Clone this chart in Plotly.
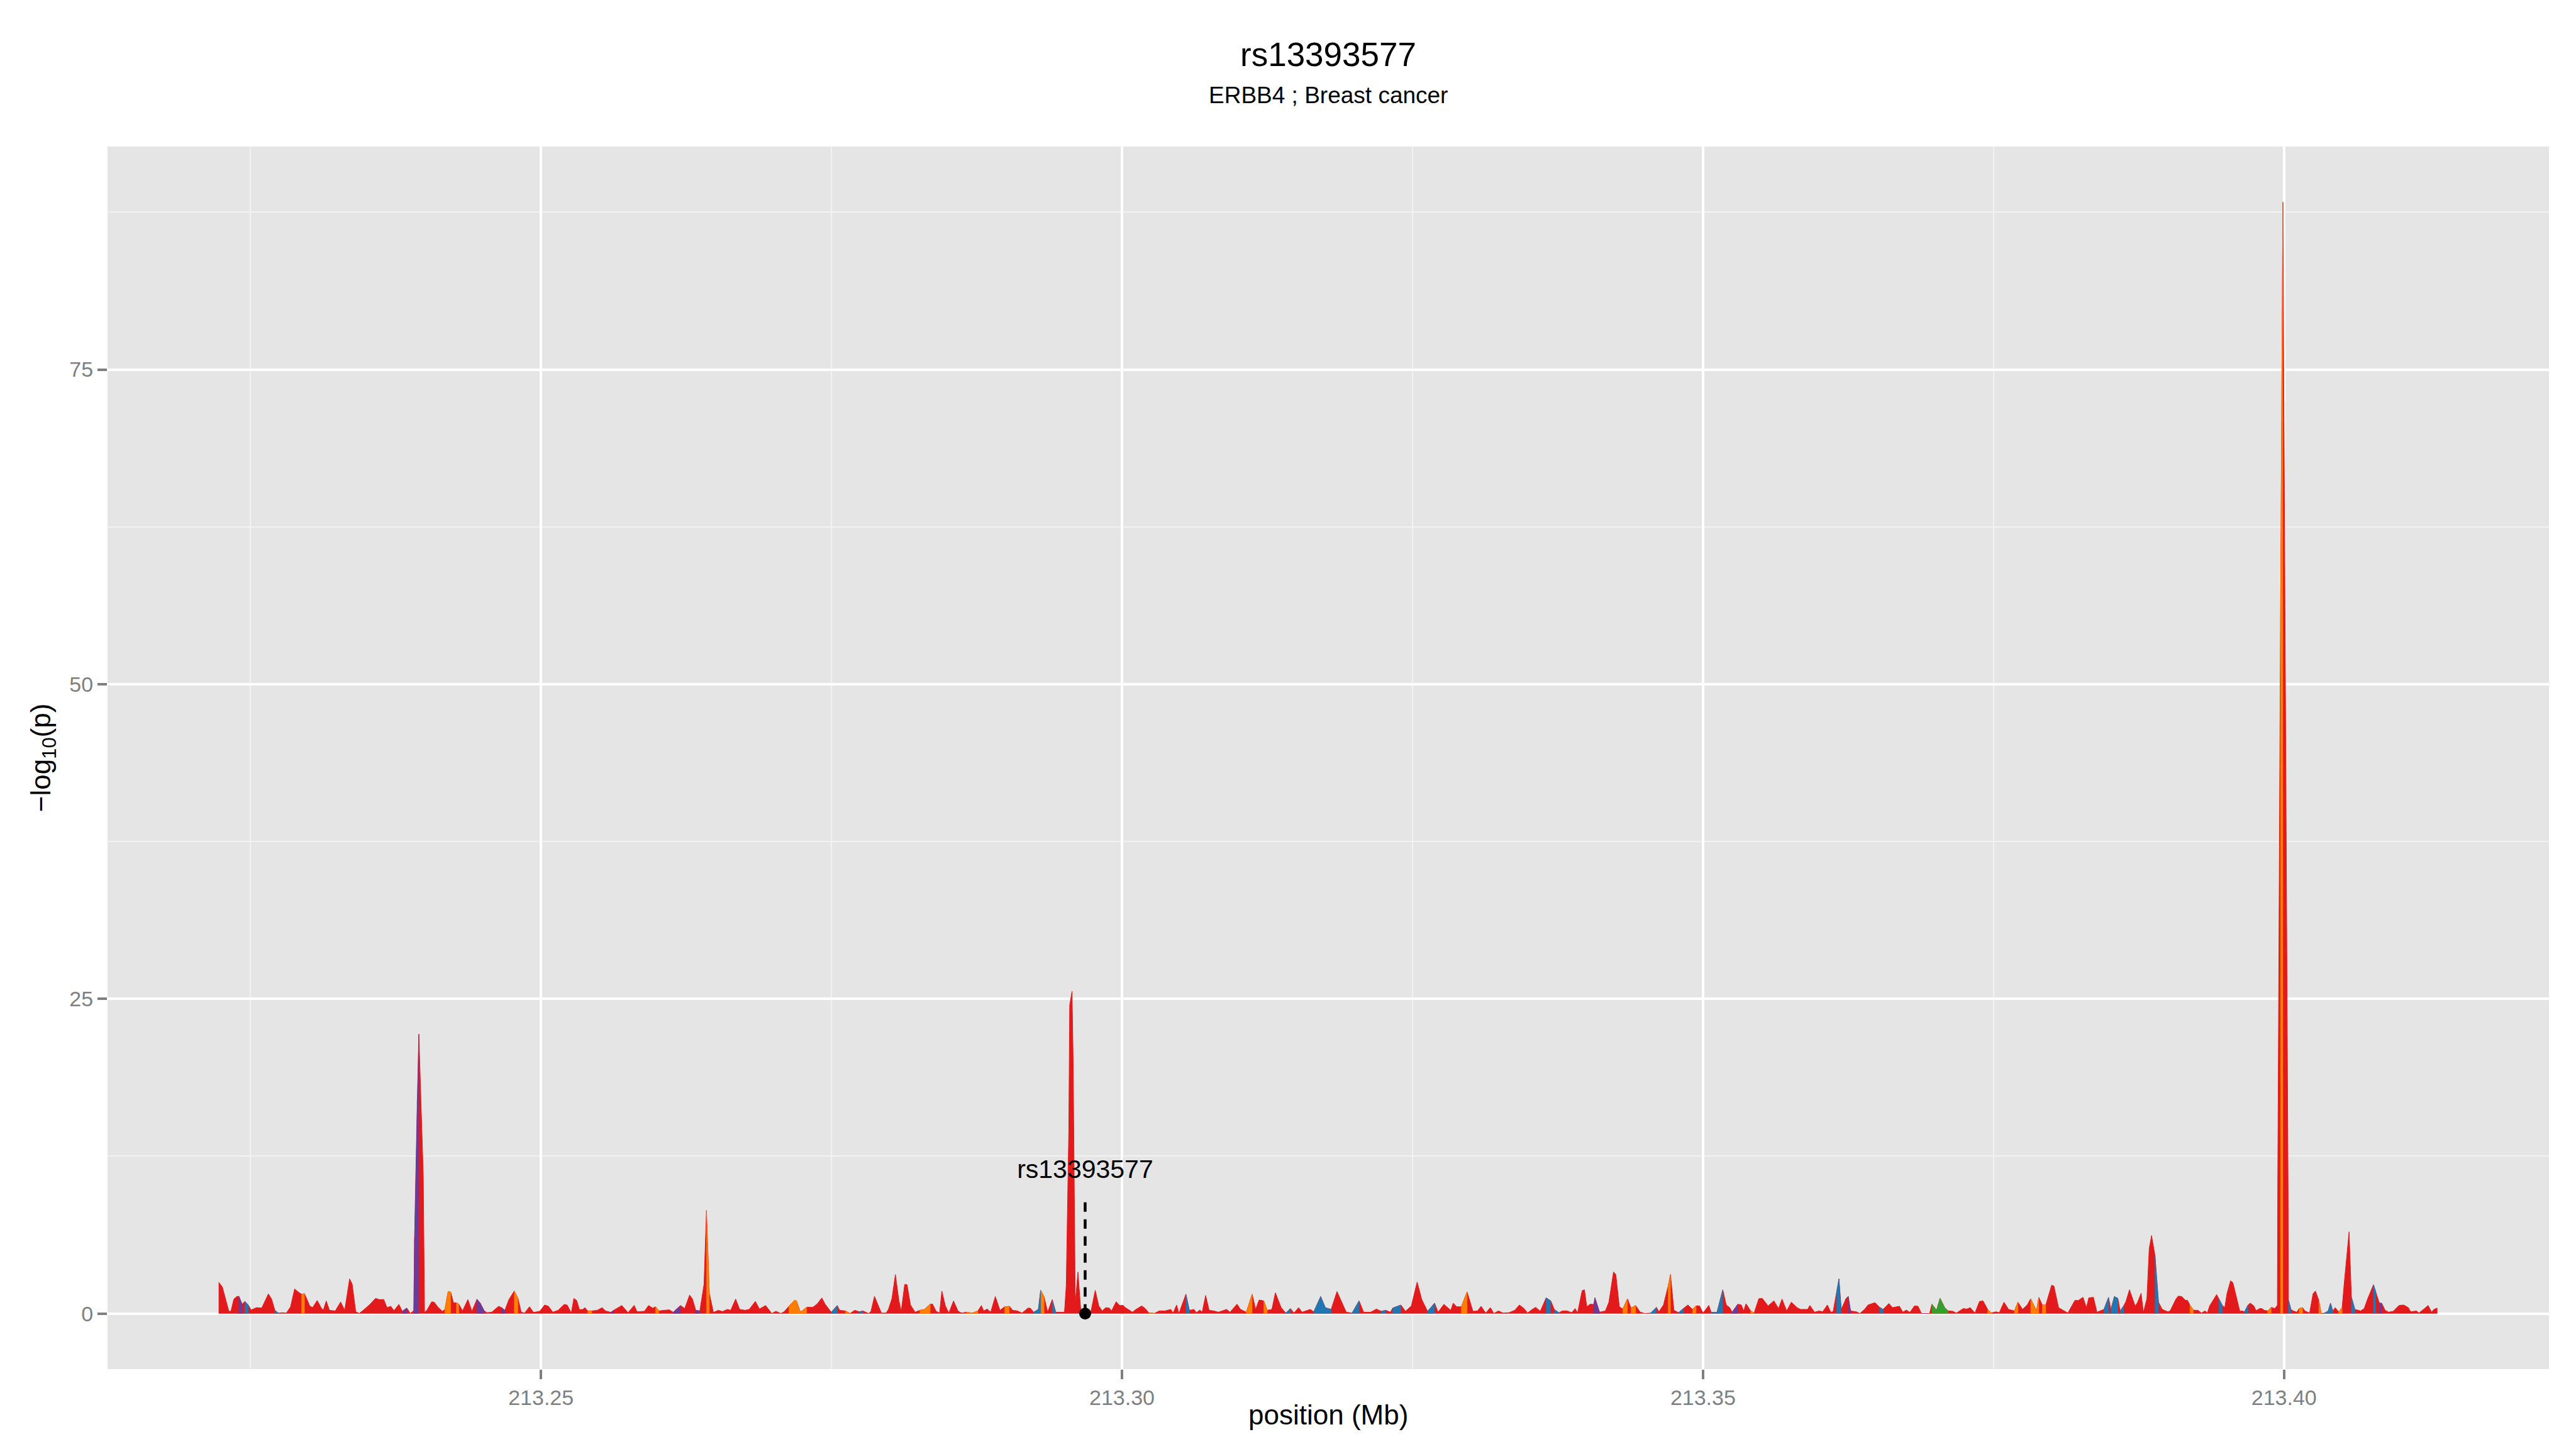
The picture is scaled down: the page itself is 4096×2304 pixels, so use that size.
import plotly.graph_objects as go

# ---------------- data ----------------
POS_BASE_MB = 213.0          # positions below are kb offsets from 213,000 kb
title_text = "rs13393577"
subtitle_text = "ERBB4 ; Breast cancer"
snp_label = "rs13393577"
snp_pos_kb = 296.83
snp_stem_top = 9.1
snp_label_y = 11.3

pos_kb = [
 222.26,222.58,223.14,223.32,223.57,223.82,224.00,224.28,224.52,224.81,
 225.05,225.51,225.97,226.54,226.82,227.10,227.39,227.74,228.09,228.45,
 228.80,229.15,229.40,229.65,230.10,230.35,230.74,231.06,231.27,231.52,
 231.80,232.30,232.76,233.11,233.53,233.75,234.06,234.35,234.70,235.30,
 235.76,236.11,236.47,236.75,237.07,237.35,237.77,238.06,238.45,238.76,
 239.01,239.05,239.12,239.35,239.49,239.70,239.87,239.98,240.18,240.60,
 240.81,241.17,241.52,241.73,242.01,242.23,242.47,242.72,242.93,243.25,
 243.71,244.06,244.49,244.77,245.12,245.37,245.76,246.36,246.61,246.89,
 247.24,247.70,248.02,248.30,248.59,249.01,249.36,249.89,250.32,250.64,
 251.02,251.48,252.01,252.26,252.61,252.83,253.07,253.32,253.60,253.78,
 254.03,254.38,254.84,255.27,255.55,256.01,256.25,256.96,257.49,258.02,
 258.27,258.90,259.26,259.61,259.86,260.14,260.60,261.02,261.38,262.01,
 262.37,262.79,263.04,263.32,263.67,264.03,264.24,264.49,264.84,265.27,
 265.62,266.04,266.33,266.75,267.10,267.56,267.92,268.45,268.80,269.33,
 269.86,270.21,270.64,270.92,271.34,271.80,271.98,272.33,272.86,273.39,
 273.75,274.17,274.45,274.98,275.50,275.70,276.20,276.60,277.00,277.40,
 277.70,278.20,278.40,278.70,279.10,279.30,279.70,279.90,280.20,280.50,
 280.80,281.00,281.30,281.50,281.80,282.20,282.60,283.00,283.50,283.70,
 284.00,284.30,284.50,284.80,285.10,285.50,285.90,286.20,286.60,287.10,
 287.60,287.90,288.10,288.40,288.70,289.10,289.50,289.90,290.30,290.60,
 291.00,291.40,291.90,292.10,292.40,292.80,293.00,293.30,293.60,294.00,
 294.30,294.50,295.05,295.20,295.42,295.50,295.70,295.80,295.90,295.98,
 296.21,296.45,296.65,296.90,297.30,297.70,298.00,298.30,298.60,298.90,
 299.10,299.50,299.80,300.10,300.30,300.90,301.20,301.70,302.00,302.30,
 302.80,303.20,303.70,304.20,304.40,304.70,304.90,305.50,305.80,306.20,
 306.40,306.70,306.90,307.20,307.50,307.90,308.30,309.00,309.30,309.90,
 310.20,310.70,311.20,311.50,311.80,312.20,312.50,312.90,313.20,313.70,
 314.10,314.50,314.80,315.20,315.50,316.20,316.50,317.10,317.50,318.00,
 318.50,318.90,319.30,319.80,320.40,320.80,321.40,321.90,322.30,322.70,
 323.10,323.30,324.00,324.40,324.90,325.40,325.80,326.30,326.90,327.20,
 327.70,328.30,328.50,328.80,329.20,329.70,330.00,330.20,330.60,330.90,
 331.30,331.70,332.00,332.40,332.80,333.30,333.80,334.20,334.60,334.90,
 335.30,335.60,336.00,336.50,336.90,337.20,337.60,337.90,338.30,338.70,
 339.00,339.20,339.60,339.80,340.00,340.30,340.60,340.70,341.10,341.60,
 341.90,342.30,342.50,342.80,343.10,343.50,343.80,344.20,344.60,345.00,
 345.50,346.00,346.20,346.60,347.00,347.20,347.50,347.90,348.30,348.70,
 349.10,349.40,349.70,350.00,350.50,350.70,351.20,351.70,352.00,352.30,
 352.50,353.00,353.30,353.50,353.70,354.10,354.40,354.80,355.10,355.60,
 356.10,356.50,356.80,357.20,357.60,358.10,358.40,359.00,359.20,359.60,
 360.00,360.30,360.70,361.00,361.20,361.50,361.70,361.90,362.30,362.50,
 362.70,363.20,363.50,363.90,364.20,364.80,365.20,365.50,366.00,366.30,
 366.90,367.20,367.50,367.80,368.20,368.50,368.80,369.20,369.50,369.70,
 370.10,370.40,370.80,371.10,371.50,371.80,372.40,372.70,373.00,373.40,
 373.80,374.10,374.50,374.80,375.20,375.50,375.90,376.30,376.80,377.10,
 377.50,377.90,378.20,378.70,378.90,379.20,379.50,380.00,380.20,380.60,
 381.00,381.40,382.00,382.30,382.70,383.00,383.20,383.60,383.90,384.20,
 384.50,384.90,385.10,385.40,385.70,385.90,386.20,386.40,386.70,387.20,
 387.40,387.70,387.90,388.20,388.40,388.60,388.90,389.20,389.50,389.70,
 390.00,390.20,390.70,390.90,391.20,391.50,391.70,391.90,392.20,392.40,
 392.60,392.90,393.20,393.40,393.60,394.20,394.40,394.70,394.90,395.10,
 395.40,395.60,396.20,396.40,396.60,396.90,397.10,397.40,397.60,397.90,
 398.10,398.30,398.60,398.90,399.20,399.40,399.43,399.46,399.70,399.90,
 400.35,400.38,400.60,400.80,401.10,401.30,401.60,401.80,402.20,402.50,
 402.70,403.00,403.20,403.50,403.80,404.00,404.20,404.40,404.70,405.00,
 405.20,405.60,405.80,406.10,406.40,406.60,406.90,407.20,407.70,407.90,
 408.20,408.40,408.70,409.00,409.40,409.90,410.30,410.70,410.90,411.40,
 411.60,412.00,412.40,412.70,412.90,413.20,
]

neglog10p = [
 2.49,2.11,0.18,0.18,1.15,1.35,1.38,0.75,0.97,0.68,
 0.28,0.47,0.44,1.56,1.15,0.26,0.04,0.07,0.04,0.54,
 1.96,1.68,1.54,1.58,0.61,0.47,1.04,0.50,0.26,1.00,
 0.26,0.21,0.92,0.26,2.75,2.35,0.16,0.01,0.26,0.75,
 1.21,1.11,1.12,0.47,0.58,0.23,0.73,0.18,0.44,0.01,
 0.21,0.10,6.00,17.0,22.2,16.0,11.0,0.10,0.26,0.94,
 0.90,0.47,0.18,0.33,1.75,1.71,0.85,0.85,0.75,0.21,
 1.11,0.18,1.14,0.83,0.21,0.07,0.11,0.58,0.47,0.26,
 1.11,1.79,1.21,0.11,0.04,0.54,0.09,0.18,0.68,0.58,
 0.11,0.26,0.73,0.67,0.04,1.21,1.04,0.30,0.33,0.47,
 0.21,0.21,0.26,0.47,0.21,0.10,0.26,0.64,0.07,0.65,
 0.14,0.18,0.64,0.43,0.54,0.21,0.26,0.30,0.11,0.64,
 0.40,1.47,1.15,0.26,0.21,2.32,8.20,1.60,0.09,0.26,
 0.16,0.33,0.26,1.15,0.33,0.26,0.33,0.97,0.36,0.64,
 0.01,0.18,0.01,0.14,0.58,1.04,1.01,0.11,0.50,0.50,
 0.75,1.24,0.75,0.11,0.64,0.26,0.21,0.01,0.26,0.14,
 0.21,0.01,0.18,1.37,0.47,0.04,0.04,0.33,1.18,3.10,
 1.04,0.18,2.32,2.29,0.68,0.11,0.26,0.33,0.75,0.75,
 0.18,0.04,1.79,0.61,0.04,1.00,0.18,0.04,0.11,0.04,
 0.21,0.64,0.21,0.36,0.11,1.35,0.26,0.54,0.58,0.26,
 0.21,0.04,0.43,0.43,0.11,0.33,1.85,1.32,0.11,1.11,
 0.11,0.11,0.10,2.20,14.4,24.5,25.6,20.0,8.00,0.80,
 3.30,0.30,0.20,0.20,0.04,1.85,0.61,0.21,0.47,0.44,
 0.21,0.94,0.64,0.65,0.47,0.11,0.33,0.61,0.40,0.07,
 0.02,0.21,0.21,0.33,0.04,0.68,0.01,1.54,0.26,0.33,
 0.07,0.28,0.11,1.44,0.26,0.21,0.11,0.33,0.11,0.75,
 0.33,0.11,1.54,0.33,1.08,1.01,0.26,0.33,1.65,0.47,
 0.04,0.40,0.04,0.47,0.11,0.33,0.14,1.35,0.47,0.33,
 1.75,0.90,0.11,0.04,1.01,0.11,0.11,0.36,0.18,0.26,
 0.11,0.44,0.68,0.18,0.61,2.50,1.11,0.18,0.83,0.11,
 0.73,0.26,0.83,0.54,0.54,1.72,0.75,0.18,0.21,0.58,
 0.04,0.47,0.01,0.21,0.04,0.07,0.26,0.68,0.40,0.04,
 0.33,0.50,0.18,1.25,1.01,0.33,0.07,0.21,0.21,0.07,
 0.40,0.04,1.82,1.89,0.54,0.75,0.73,1.25,0.11,0.21,
 0.90,3.31,3.10,0.54,0.36,1.18,0.44,0.64,0.11,0.01,
 0.04,0.50,0.14,0.68,2.18,3.10,0.26,0.07,0.40,0.68,
 0.33,0.61,0.61,0.04,0.65,0.11,0.09,1.89,0.68,0.47,
 0.11,0.75,0.68,0.21,0.78,0.21,0.04,1.18,1.21,0.61,
 1.01,0.40,1.15,0.21,0.90,0.47,0.33,0.33,0.64,0.11,
 0.21,0.14,0.68,0.11,0.16,1.75,2.75,0.33,1.18,1.37,
 0.21,0.14,0.01,0.33,0.68,0.87,0.50,0.33,0.80,0.47,
 0.58,0.11,0.28,0.09,0.61,0.58,0.01,0.01,0.01,0.75,
 0.26,1.21,0.47,0.21,0.18,0.04,0.40,0.36,0.47,0.04,
 0.97,1.00,0.33,0.04,0.14,0.07,0.90,0.33,0.21,0.90,
 0.33,0.68,1.18,0.21,1.29,0.68,0.68,2.25,2.18,0.47,
 0.26,0.04,1.04,1.04,1.29,0.47,1.25,1.29,0.11,0.21,
 0.33,1.29,0.33,1.35,1.21,0.21,0.61,0.97,1.89,0.58,
 0.90,1.61,0.09,1.18,5.16,6.20,4.60,0.90,0.36,0.26,
 0.14,0.21,1.15,1.39,1.35,1.07,1.04,0.68,0.28,0.26,
 0.26,0.04,0.21,0.04,0.61,1.51,1.18,0.64,0.47,1.61,
 2.60,2.46,0.18,0.21,0.14,0.68,0.83,0.61,0.23,0.40,
 0.40,0.26,0.21,0.50,0.40,0.61,0.70,10.0,55.0,88.3,
 10.0,1.10,0.33,0.21,0.11,0.40,0.47,0.21,0.04,1.58,
 1.79,1.04,0.01,0.04,0.21,0.83,0.21,0.47,0.14,0.47,
 2.60,6.50,1.32,0.33,0.26,0.21,0.40,1.18,2.29,1.75,
 0.83,0.83,0.26,0.11,0.18,0.65,0.68,0.47,0.14,0.21,
 0.04,0.33,0.64,0.11,0.33,0.44,
]

# points (kb) whose left-hand segment is not red, and their category
highlight_pos_kb = [
 224.28,224.81,227.39,229.65,238.45,239.12,239.35,239.49,242.01,242.23,
 242.93,244.77,245.12,246.89,248.02,254.38,256.25,260.14,262.01,263.67,
 264.49,271.80,271.98,272.33,272.86,275.50,276.60,277.70,283.00,283.50,
 287.10,287.60,290.30,292.80,293.00,293.30,294.30,302.80,305.80,311.20,
 312.50,314.50,317.10,317.50,318.00,320.40,322.70,324.00,326.90,329.70,
 336.90,337.60,340.70,341.10,343.50,344.20,346.00,347.20,348.30,349.40,
 351.20,351.70,353.00,354.40,361.70,361.90,362.70,365.50,369.20,370.10,
 370.40,370.80,371.10,374.80,377.10,378.70,378.90,379.50,384.90,385.40,
 385.70,386.20,389.20,392.20,394.70,396.90,398.90,399.90,400.60,401.60,
 403.20,403.80,404.00,404.20,405.00,406.10,407.90,408.40,
]
highlight_cat = [
 "purple","blue","blue","orange","purple","purple","purple","purple","orange","orange",
 "orange","purple","purple","purple","orange","orange","purple","orange","purple","purple",
 "orange","orange","orange","orange","orange","blue","orange","blue","orange","orange",
 "orange","orange","orange","blue","blue","orange","blue","orange","blue","orange",
 "orange","blue","blue","blue","blue","blue","blue","blue","blue","orange",
 "blue","blue","purple","purple","orange","orange","blue","orange","blue","orange",
 "blue","blue","purple","orange","blue","blue","purple","blue","purple","green",
 "green","green","green","orange","orange","orange","orange","orange","blue","blue",
 "blue","blue","blue","orange","blue","blue","orange","orange","blue","orange",
 "orange","blue","blue","blue","orange","blue","blue","purple",
]

cat_colors = {"red": "#E31A1C", "orange": "#FF7F00", "blue": "#1F78B4",
              "purple": "#6A3D9A", "green": "#33A02C"}

x_ticks = [213.25, 213.30, 213.35, 213.40]
x_tick_text = ["213.25", "213.30", "213.35", "213.40"]
y_ticks = [0, 25, 50, 75]

# ---------------- figure ----------------
FONT = "Liberation Sans, Arial, Helvetica, sans-serif"
x_mb = [POS_BASE_MB + p / 1000.0 for p in pos_kb]
snp_x = POS_BASE_MB + snp_pos_kb / 1000.0

hl = {round(p, 2): c for p, c in zip(highlight_pos_kb, highlight_cat)}
seg_cat = [hl.get(round(p, 2), "red") for p in pos_kb]

fig = go.Figure()
fig.add_trace(go.Scatter(x=x_mb, y=neglog10p, mode="lines", fill="tozeroy",
                         fillcolor=cat_colors["red"], line=dict(color=cat_colors["red"], width=1),
                         hoverinfo="skip", showlegend=False))

for c in ["orange", "blue", "purple", "green"]:
    xs, ys = [], []
    for i in range(1, len(x_mb)):
        if seg_cat[i] == c:
            xs += [x_mb[i - 1], x_mb[i - 1], x_mb[i], x_mb[i], None]
            ys += [0, neglog10p[i - 1], neglog10p[i], 0, None]
    if xs:
        fig.add_trace(go.Scatter(x=xs, y=ys, mode="lines", fill="toself",
                                 fillcolor=cat_colors[c], line=dict(color=cat_colors[c], width=0.5),
                                 hoverinfo="skip", showlegend=False))

fig.add_trace(go.Scatter(x=[snp_x, snp_x], y=[0, snp_stem_top], mode="lines",
                         line=dict(color="black", width=4.5, dash="15px,12px"),
                         hoverinfo="skip", showlegend=False))
fig.add_trace(go.Scatter(x=[snp_x], y=[0], mode="markers",
                         marker=dict(color="black", size=19),
                         hoverinfo="skip", showlegend=False))
fig.add_trace(go.Scatter(x=[snp_x], y=[snp_label_y], mode="text", text=[snp_label],
                         textposition="middle center",
                         textfont=dict(family=FONT, size=41, color="black"),
                         hoverinfo="skip", showlegend=False))

y_max = max(neglog10p)
fig.update_layout(
    width=4096, height=2304,
    margin=dict(l=163, r=51, t=225, b=135, autoexpand=False),
    paper_bgcolor="white", plot_bgcolor="#E5E5E5",
    font=dict(family=FONT, color="black"),
    xaxis=dict(range=[213.2127, 213.4228], tickmode="array", tickvals=x_ticks, ticktext=x_tick_text,
               showgrid=True, gridcolor="white", gridwidth=4, zeroline=False, showline=False,
               ticks="outside", ticklen=15, tickwidth=4, tickcolor="#7F7F7F",
               tickfont=dict(family=FONT, size=34, color="#7F7F7F"),
               minor=dict(tick0=213.225, dtick=0.05, showgrid=True, gridcolor="#F2F2F2",
                          gridwidth=2, ticks="")),
    yaxis=dict(range=[-0.05 * y_max, 1.05 * y_max], tickmode="array", tickvals=y_ticks,
               showgrid=True, gridcolor="white", gridwidth=4, zeroline=False, showline=False,
               ticks="outside", ticklen=15, tickwidth=4, tickcolor="#7F7F7F",
               tickfont=dict(family=FONT, size=34, color="#7F7F7F"),
               minor=dict(tick0=12.5, dtick=25, showgrid=True, gridcolor="#F2F2F2",
                          gridwidth=2, ticks="")),
    annotations=[
        dict(text=title_text, x=0.5, y=1.0756, xref="paper", yref="paper", showarrow=False,
             xanchor="center", yanchor="middle", font=dict(family=FONT, size=53, color="black")),
        dict(text=subtitle_text, x=0.5, y=1.0417, xref="paper", yref="paper", showarrow=False,
             xanchor="center", yanchor="middle", font=dict(family=FONT, size=37, color="black")),
        dict(text="position (Mb)", x=0.5, y=-0.0371, xref="paper", yref="paper", showarrow=False,
             xanchor="center", yanchor="middle", font=dict(family=FONT, size=44, color="black")),
        dict(text="\u2212log<sub>10</sub>(p)", x=-0.0265, y=0.5, xref="paper", yref="paper",
             showarrow=False, textangle=-90, xanchor="center", yanchor="middle",
             font=dict(family=FONT, size=44, color="black")),
    ],
)

fig.write_html("out.html")
